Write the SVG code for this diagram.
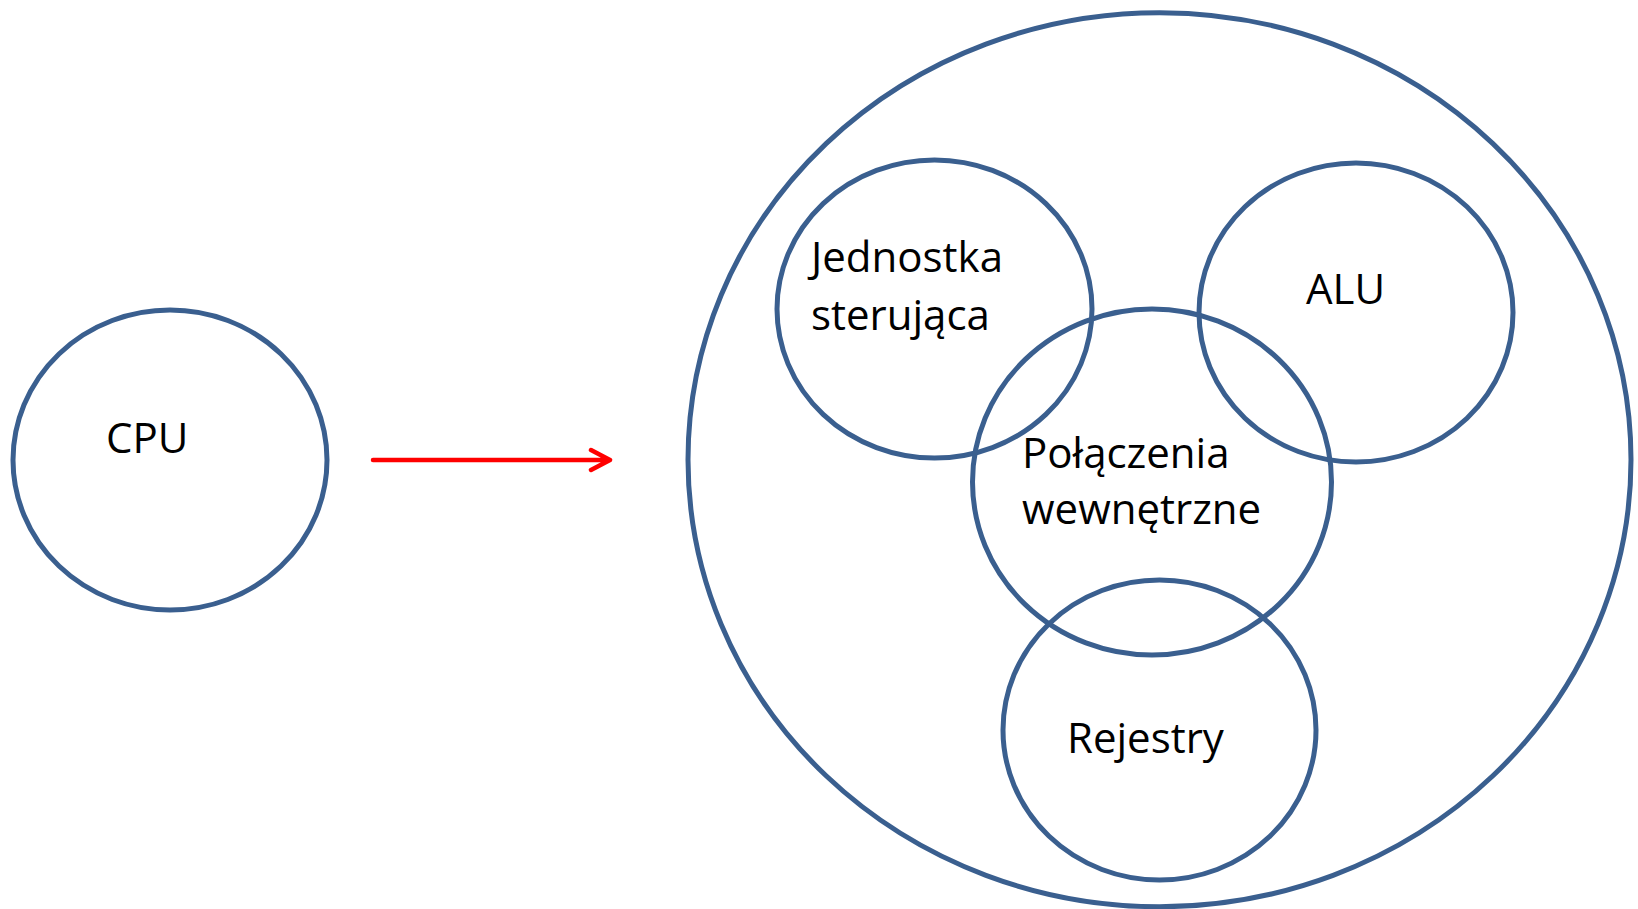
<svg xmlns="http://www.w3.org/2000/svg" width="1638" height="909" viewBox="0 0 1638 909">
<style>
.c{fill:none;stroke:#3A5F8F;stroke-width:5}
.t{font-family:"Open Sans","Liberation Sans",sans-serif;font-size:42px;fill:#000}
.a{fill:none;stroke:#FF0000;stroke-width:4.5;stroke-linecap:round;stroke-linejoin:round}
</style>
<rect width="1638" height="909" fill="#fff"/>
<g id="outer"><ellipse class="c" cx="1159.5" cy="459.7" rx="471.5" ry="447"/></g>
<g id="cpu"><ellipse class="c" cx="170" cy="460" rx="157" ry="150"/><text class="t" x="106" y="453">CPU</text></g>
<g id="jednostka"><ellipse class="c" cx="934.5" cy="309" rx="157.5" ry="149"/><text class="t" x="811" y="272">Jednostka</text><text class="t" x="811" y="330">sterująca</text></g>
<g id="alu"><ellipse class="c" cx="1356" cy="312.5" rx="157" ry="149.5"/><text class="t" x="1306" y="304">ALU</text></g>
<g id="polaczenia"><ellipse class="c" cx="1152" cy="482" rx="179.5" ry="173"/><text class="t" x="1022" y="468">Połączenia</text><text class="t" x="1022" y="524">wewnętrzne</text></g>
<g id="rejestry"><ellipse class="c" cx="1159.5" cy="730" rx="156.5" ry="150"/><text class="t" x="1067" y="753">Rejestry</text></g>
<g id="connectors"><path class="a" d="M373 460 L610 460 M591 450 L610 460 L591 470"/></g>
</svg>
